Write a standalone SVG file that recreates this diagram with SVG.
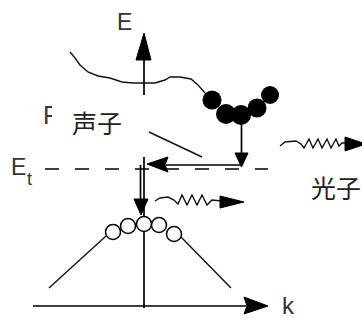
<svg xmlns="http://www.w3.org/2000/svg" width="362" height="320" viewBox="0 0 362 320">
<style>
.ln{fill:none;stroke:#000;stroke-width:1.7}
.th{fill:none;stroke:#111;stroke-width:1.4}
.hd{fill:#000;stroke:#000;stroke-width:1}
.lbl{font-family:"Liberation Sans",Arial,sans-serif;fill:#333}
.cjk{font-family:"Noto Sans CJK SC","Noto Sans CJK JP",sans-serif;fill:#222}
.oc{fill:#fff;stroke:#000;stroke-width:1.5}
</style>
<rect width="362" height="320" fill="#fff"/>
<g id="axes">
<line class="ln" x1="144" y1="58" x2="144" y2="308"/>
<polygon class="hd" points="144,33 136,60 151,60"/>
<line class="ln" x1="33" y1="306" x2="246" y2="306"/>
<polygon class="hd" points="268,306 244,297 247,306 244,314"/>
<text class="lbl" x="117" y="30" font-size="23">E</text>
<text class="lbl" x="282" y="314" font-size="24">k</text>
</g>
<g id="label-F"><text class="lbl" x="43" y="124" font-size="25">F</text></g>
<g id="conduction-band">
<polyline class="th" points="70,52 75,58 80,65 88,72 98,76 110,78 122,82 133,83 143,83 155,83 165,80 170,77 180,77 191,79 198,85 205,93"/>
<circle cx="212" cy="100" r="9.5" fill="#000"/>
<circle cx="226" cy="114" r="10" fill="#000"/>
<circle cx="241" cy="115" r="10" fill="#000"/>
<circle cx="257" cy="108" r="9.5" fill="#000"/>
<circle cx="270" cy="95" r="9" fill="#000"/>
</g>
<g id="valence-band">
<line class="th" x1="106" y1="236" x2="49" y2="288"/>
<line class="th" x1="181" y1="237" x2="231" y2="288"/>
<circle class="oc" cx="113" cy="232" r="7.5"/>
<circle class="oc" cx="128" cy="226" r="7.5"/>
<circle class="oc" cx="144" cy="224" r="7.5"/>
<circle class="oc" cx="159" cy="225" r="7.5"/>
<circle class="oc" cx="174" cy="234" r="7.5"/>
</g>
<g id="trap-level">
<line x1="45" y1="169" x2="268" y2="169" stroke="#000" stroke-width="1.6" stroke-dasharray="14,16"/>
<text class="lbl" x="11" y="175" font-size="23">E<tspan x="27" y="185" font-size="18">t</tspan></text>
</g>
<g id="connectors">
<line class="ln" x1="241.5" y1="123" x2="241.5" y2="154"/>
<polygon class="hd" points="235,153 248,153 241.5,167"/>
<line class="ln" x1="166" y1="165" x2="241" y2="165"/>
<polygon class="hd" points="147,164 168,157 165,165 168,172"/>
<line class="ln" x1="140.5" y1="165" x2="140.5" y2="200"/>
<polygon class="hd" points="134,199 148,199 141,215"/>
<line class="th" x1="149" y1="132" x2="202" y2="157"/>
<polyline class="th" points="280,146 285,142 296,141 301,144 304,148 309,139 313,148 318,139 322,148 327,139 331,148 336,139 339,146 342,143 347,143"/>
<polygon class="hd" points="345,137 366,144 345,151"/>
<polyline class="th" points="155,201 160,198 168,197 174,200 178,204 182,195 187,205 192,195 197,205 202,195 207,205 212,200 222,201"/>
<polygon class="hd" points="220,196 244,202 220,208"/>
</g>
<g id="label-phonon">
<rect x="52" y="95" width="96" height="62" fill="#fff"/>
<text class="cjk" x="72" y="133" font-size="25">声子</text>
</g>
<g id="label-photon">
<text class="cjk" x="311" y="198" font-size="25">光子</text>
</g>
</svg>
